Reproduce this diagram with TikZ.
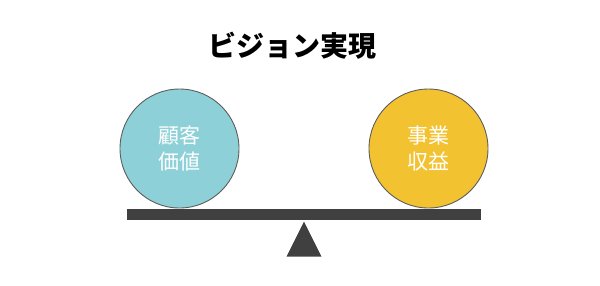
\documentclass[tikz,border=0pt]{standalone}
\usepackage{fontspec}
\newfontfamily\cjk{Noto Sans CJK JP}
\definecolor{ballblue}{HTML}{8ED0D8}
\definecolor{ballyellow}{HTML}{F2C230}
\definecolor{beam}{HTML}{404040}
\begin{document}
\begin{tikzpicture}[x=1pt,y=-1pt,
  ball/.style={circle,draw=beam!85,line width=0.9pt,minimum size=119pt,inner sep=0pt,
    text=white,font=\cjk\fontsize{21}{26}\selectfont,align=center},
  title/.style={font=\cjk\bfseries\fontsize{28}{30}\selectfont,text=black}]
\useasboundingbox (0,0) rectangle (600,285);
\node[title] (t) at (292.5,45.5) {ビジョン実現};
\fill[beam] (127,209) rectangle (481,220);
\node[ball,fill=ballblue] (l) at (179.5,148.5) {顧客\\価値};
\node[ball,fill=ballyellow] (r) at (428.5,148.5) {事業\\収益};
\fill[beam] (304,221.5) -- (321.5,256.5) -- (286.5,256.5) -- cycle;
\end{tikzpicture}
\end{document}
